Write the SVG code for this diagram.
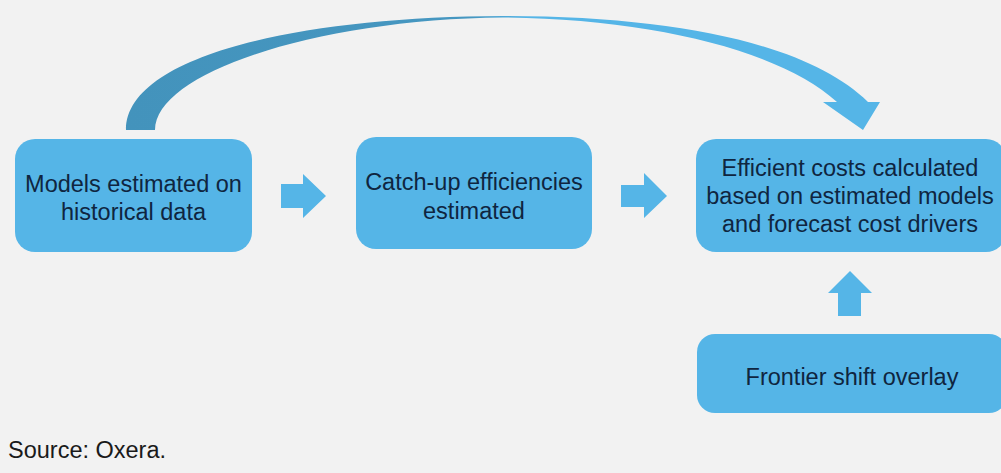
<svg xmlns="http://www.w3.org/2000/svg" width="1001" height="473" viewBox="0 0 1001 473">
<defs>
<style>
.box{fill:#55B5E7;}
.t{font-family:"Liberation Sans",Arial,sans-serif;font-size:23.5px;fill:#0F2540;text-anchor:middle;}
.arr{fill:#55B5E7;}
</style>
<linearGradient id="g" gradientUnits="userSpaceOnUse" x1="126" y1="0" x2="880" y2="0">
<stop offset="0" stop-color="#4393BC"/>
<stop offset="0.46" stop-color="#4697C1"/>
<stop offset="0.53" stop-color="#55B5E7"/>
<stop offset="1" stop-color="#55B5E7"/>
</linearGradient>
</defs>
<rect width="1001" height="473" fill="#F2F2F2"/>
<g id="connectors">
<path d="M126,130 C126,58 290,17 503,16 C680,16 810,45 868,102 L880,102 L863,130 L823,102 L837,102 C780,50 650,19 503,17.5 C320,19 155,72 155,130 Z" fill="url(#g)"/>
<polygon class="arr" points="281,184 303,184 303,174 326,196 303,218 303,208 281,208"/>
<polygon class="arr" points="621,185 644,185 644,173 667,196 644,218 644,207 621,207"/>
<polygon class="arr" points="838,316 838,293 828,293 850,271 872,293 861,293 861,316"/>
</g>
<g id="n1">
<rect class="box" x="15" y="139" width="237" height="113" rx="20"/>
<text class="t" x="133.5" y="192">Models estimated on</text>
<text class="t" x="133.5" y="220">historical data</text>
</g>
<g id="n2">
<rect class="box" x="356" y="137" width="236" height="112" rx="20"/>
<text class="t" x="474" y="190">Catch-up efficiencies</text>
<text class="t" x="474" y="219">estimated</text>
</g>
<g id="n3">
<rect class="box" x="696" y="139" width="310" height="113" rx="20"/>
<text class="t" x="850" y="176">Efficient costs calculated</text>
<text class="t" x="850" y="204">based on estimated models</text>
<text class="t" x="850" y="232">and forecast cost drivers</text>
</g>
<g id="n4">
<rect class="box" x="697" y="334" width="310" height="79" rx="18"/>
<text class="t" x="852" y="385">Frontier shift overlay</text>
</g>
<text x="8" y="458" style="font-family:'Liberation Sans',Arial,sans-serif;font-size:23.5px;fill:#1A1A1A">Source: Oxera.</text>
</svg>
